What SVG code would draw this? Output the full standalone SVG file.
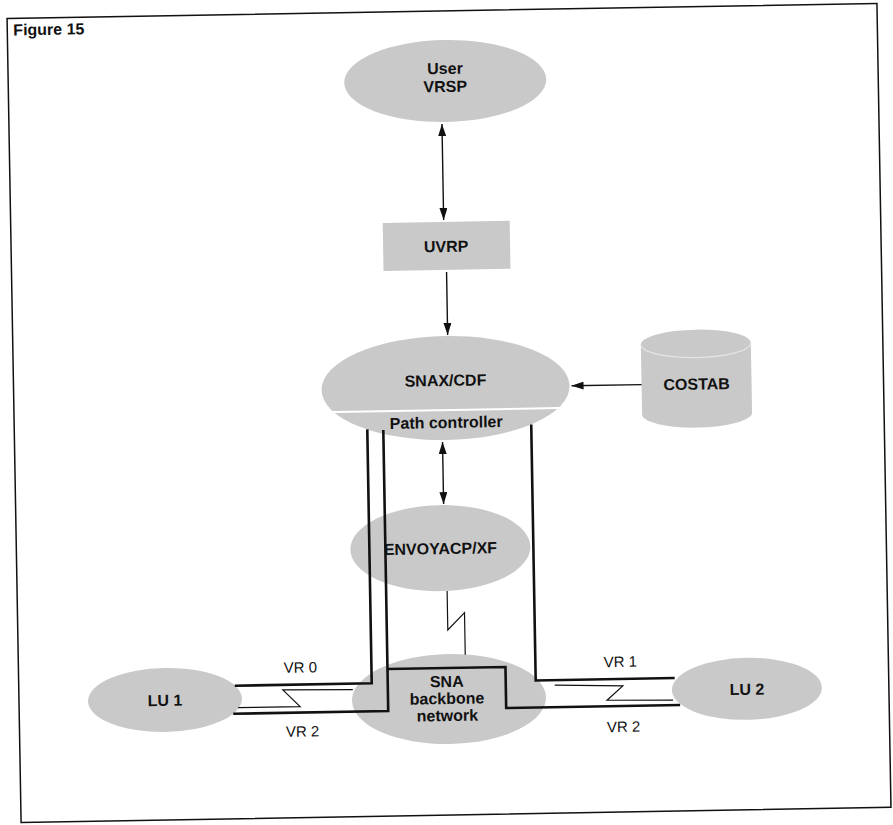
<svg xmlns="http://www.w3.org/2000/svg" width="893" height="825" viewBox="0 0 893 825">
<defs>
<style>
.shape{fill:#c9c9c9}
.lbl{font-family:"Liberation Sans",Arial,sans-serif;font-size:16px;font-weight:bold;fill:#111;text-anchor:middle}
.vr{font-family:"Liberation Sans",Arial,sans-serif;font-size:15px;fill:#111;text-anchor:middle}
.title{font-family:"Liberation Sans",Arial,sans-serif;font-size:16px;font-weight:bold;fill:#111}
.conn{stroke:#111;stroke-width:1.4;fill:none}
.thick{stroke:#111;stroke-width:2.6;fill:none;stroke-linejoin:miter}
.thin{stroke:#111;stroke-width:1.2;fill:none}
</style>
<marker id="ah" viewBox="0 0 12 8" refX="12" refY="4" markerWidth="12" markerHeight="8" markerUnits="userSpaceOnUse" orient="auto-start-reverse"><path d="M0,0 L12,4 L0,8 z" fill="#111"/></marker>
</defs>
<rect width="893" height="825" fill="#fff"/>
<g transform="rotate(-1 446 412)">
<rect x="14" y="11" width="870" height="804" fill="none" stroke="#111" stroke-width="1.5"/>
<text class="title" x="20" y="28">Figure 15</text>

<g id="user-vrsp">
<ellipse class="shape" cx="451" cy="81" rx="101" ry="41"/>
<text class="lbl" x="451" y="74">User</text>
<text class="lbl" x="451" y="92">VRSP</text>
</g>
<g id="uvrp">
<rect class="shape" x="386" y="222" width="127" height="48"/>
<text class="lbl" x="449" y="252">UVRP</text>
</g>
<g id="snax-cdf">
<ellipse class="shape" cx="446" cy="388" rx="124" ry="52"/>
<line x1="322" y1="410" x2="570" y2="410" stroke="#fff" stroke-width="2"/>
<text class="lbl" x="446" y="386">SNAX/CDF</text>
<text class="lbl" x="446" y="428">Path controller</text>
</g>
<g id="costab">
<path class="shape" d="M642,348 a55,14 0 0 1 110,0 v70 a55,14 0 0 1 -110,0 z"/>
<path d="M642,348 a55,14 0 0 0 110,0" fill="none" stroke="#e4e4e4" stroke-width="1.2"/>
<text class="lbl" x="697" y="394">COSTAB</text>
</g>
<g id="envoy">
<ellipse class="shape" cx="438" cy="548" rx="90" ry="43"/>
<text class="lbl" x="438" y="554">ENVOYACP/XF</text>
</g>
<g id="sna">
<ellipse class="shape" cx="444" cy="699" rx="97" ry="45"/>
<text class="lbl" x="442" y="687">SNA</text>
<text class="lbl" x="442" y="704">backbone</text>
<text class="lbl" x="442" y="721">network</text>
</g>
<g id="lu1">
<ellipse class="shape" cx="160" cy="695" rx="77" ry="32"/>
<text class="lbl" x="160" y="701">LU 1</text>
</g>
<g id="lu2">
<ellipse class="shape" cx="742" cy="694" rx="75" ry="31"/>
<text class="lbl" x="742" y="700">LU 2</text>
</g>

<g id="connectors">
<line class="conn" x1="447" y1="124" x2="447" y2="220" marker-start="url(#ah)" marker-end="url(#ah)"/>
<line class="conn" x1="449" y1="272" x2="449" y2="335" marker-end="url(#ah)"/>
<line class="conn" x1="642" y1="388" x2="572" y2="388" marker-end="url(#ah)"/>
<line class="conn" x1="442" y1="442" x2="442" y2="504" marker-start="url(#ah)" marker-end="url(#ah)"/>
<polyline class="thin" points="444,591 444,630 461,613 461,655"/>
<polyline class="thick" points="367,428 367,682 230,682"/>
<polyline class="thick" points="383,429 383,710 228,710"/>
<polyline class="thick" points="383,668 501,668 501,709 675,709"/>
<polyline class="thick" points="531,426 531,682 670,682"/>
<polyline class="thin" points="348,688 278,687 295,704 233,704"/>
<polyline class="thin" points="550,687 618,689 602,703 668,704"/>
</g>
<text class="vr" x="296" y="670">VR 0</text>
<text class="vr" x="297" y="734">VR 2</text>
<text class="vr" x="616" y="670">VR 1</text>
<text class="vr" x="618" y="735">VR 2</text>
</g>
</svg>
